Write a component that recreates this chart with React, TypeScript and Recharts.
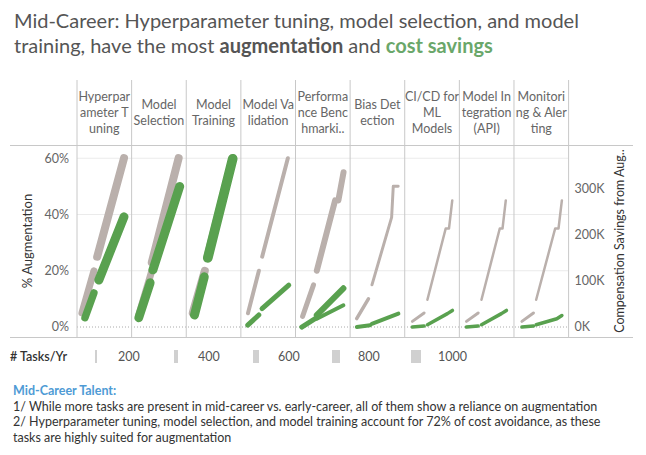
import React from "react";
import { ComposedChart, Line, XAxis, YAxis, CartesianGrid, ReferenceLine } from "recharts";

const FONT = "Lato, 'Open Sans', sans-serif";
const W = 646;
const H = 455;
const PLOT_LEFT = 77;
const PLOT_RIGHT = 568.6;
const PANEL_PX = (PLOT_RIGHT - PLOT_LEFT) / 9;

const GRAY = "#bab0ac";
const GREEN = "#59a14f";
const RULE = "#c8c8c8";

const tasks = [
  "Hyperparameter Tuning",
  "Model Selection",
  "Model Training",
  "Model Validation",
  "Performance Benchmarking",
  "Bias Detection",
  "CI/CD for ML Models",
  "Model Integration (API)",
  "Monitoring & Alerting",
];
const taskHeaders = [
  ["Hyperpar", "ameter T", "uning"],
  ["Model", "Selection"],
  ["Model", "Training"],
  ["Model Va", "lidation"],
  ["Performa", "nce Benc", "hmarki.."],
  ["Bias Det", "ection"],
  ["CI/CD for", "ML", "Models"],
  ["Model In", "tegration", "(API)"],
  ["Monitori", "ng & Aler", "ting"],
];
const augTicks = [0, 0.2, 0.4, 0.6];
const savTicks = [0, 100000, 200000, 300000];
const sizeTicks = [200, 400, 600, 800, 1000];

// % augmentation runs: task index, tasks/yr, position across the pane (0-100), values
const augRuns = [
  { task: 0, perYr: 750, pos: [9, 31], val: [0.05, 0.2] },
  { task: 0, perYr: 870, pos: [37, 86], val: [0.25, 0.6] },
  { task: 1, perYr: 750, pos: [13, 37], val: [0.043, 0.2] },
  { task: 1, perYr: 870, pos: [37, 86], val: [0.23, 0.6] },
  { task: 2, perYr: 870, pos: [12, 34], val: [0.05, 0.2] },
  { task: 2, perYr: 870, pos: [39, 85], val: [0.25, 0.6] },
  { task: 3, perYr: 430, pos: [13, 33], val: [0.049, 0.2] },
  { task: 3, perYr: 430, pos: [39, 86], val: [0.25, 0.6] },
  { task: 4, perYr: 540, pos: [13, 33], val: [0.038, 0.15] },
  { task: 4, perYr: 650, pos: [39, 72.5], val: [0.2, 0.45] },
  { task: 4, perYr: 650, pos: [78.5, 88], val: [0.45, 0.55] },
  { task: 5, perYr: 380, pos: [12, 33.5], val: [0.03, 0.1] },
  { task: 5, perYr: 320, pos: [40, 76, 79, 88], val: [0.15, 0.39, 0.5, 0.5] },
  { task: 6, perYr: 320, pos: [14, 35.5], val: [0.02, 0.05] },
  { task: 6, perYr: 270, pos: [41.5, 75, 81, 87], val: [0.097, 0.35, 0.35, 0.45] },
  { task: 7, perYr: 320, pos: [13, 34.5], val: [0.02, 0.05] },
  { task: 7, perYr: 270, pos: [40.5, 74, 79, 85], val: [0.097, 0.35, 0.35, 0.45] },
  { task: 8, perYr: 320, pos: [14.5, 35.7], val: [0.02, 0.05] },
  { task: 8, perYr: 270, pos: [40.6, 75.4, 81.5, 87.7], val: [0.097, 0.35, 0.35, 0.45] },
];

// compensation savings from augmentation runs ($)
const savRuns = [
  { task: 0, perYr: 800, pos: [14.6, 31], val: [20000, 74000] },
  { task: 0, perYr: 970, pos: [40, 86], val: [102000, 239000] },
  { task: 1, perYr: 950, pos: [13, 34], val: [20000, 96000] },
  { task: 1, perYr: 970, pos: [39, 88], val: [124000, 305000] },
  { task: 2, perYr: 970, pos: [15, 33], val: [26000, 109000] },
  { task: 2, perYr: 1050, pos: [39.5, 85], val: [150000, 365000] },
  { task: 3, perYr: 540, pos: [12.6, 32.8], val: [4000, 26000] },
  { task: 3, perYr: 540, pos: [38.8, 87.7], val: [40000, 91000] },
  { task: 4, perYr: 540, pos: [11.5, 36], val: [0, 18000] },
  { task: 4, perYr: 650, pos: [39, 87.7], val: [26000, 84000] },
  { task: 4, perYr: 430, pos: [39, 87.7], val: [18000, 47000] },
  { task: 5, perYr: 430, pos: [12.3, 36.6], val: [0, 4000] },
  { task: 5, perYr: 430, pos: [39.7, 88.4], val: [7000, 29000] },
  { task: 6, perYr: 380, pos: [14, 35.5], val: [0, 2000] },
  { task: 6, perYr: 380, pos: [41.6, 78.2, 87.3], val: [5000, 29000, 36000] },
  { task: 7, perYr: 380, pos: [13, 34.4], val: [0, 2000] },
  { task: 7, perYr: 380, pos: [40.5, 77, 86.2], val: [5000, 29000, 36000] },
  { task: 8, perYr: 380, pos: [14.5, 35.7], val: [0, 2000] },
  { task: 8, perYr: 380, pos: [40.6, 78.5, 87.7], val: [5000, 18000, 25000] },
];

const notes = [
  "1/ While more tasks are present in mid-career vs. early-career, all of them show a reliance on augmentation",
  "2/ Hyperparameter tuning, model selection, and model training account for 72% of cost avoidance, as these",
  "tasks are highly suited for augmentation",
];

const widthFor = (perYr: number) => perYr / 108;

function HeaderTick(props: any) {
  const { x, payload } = props;
  const idx = Math.floor(payload.value / 100);
  const lines = taskHeaders[idx] || [];
  const half = PANEL_PX / 2;
  return (
    <g>
      <line x1={x - half} x2={x - half} y1={80} y2={145} stroke={RULE} />
      {idx === tasks.length - 1 && <line x1={x + half} x2={x + half} y1={80} y2={145} stroke={RULE} />}
      <text textAnchor="middle" fill="#666" fontSize={12.5} fontFamily={FONT}>
        {lines.map((l, i) => (
          <tspan key={i} x={x} y={113 + (i - (lines.length - 1) / 2) * 16} dy="0.35em">
            {l}
          </tspan>
        ))}
      </text>
    </g>
  );
}

export default function App() {
  const tickStyle = { fill: "#666", fontSize: 12.5, fontFamily: FONT };
  return (
    <div style={{ position: "absolute", left: 0, top: 0, width: W, height: H, background: "#fff", fontFamily: FONT }}>
      <div style={{ position: "absolute", left: 14, top: 8, fontSize: 20, lineHeight: "25px", color: "#555", whiteSpace: "nowrap" }}>
        <div>Mid-Career: Hyperparameter tuning, model selection, and model</div>
        <div>
          training, have the most <b>augmentation</b> and <b style={{ color: "#6aa76a" }}>cost savings</b>
        </div>
      </div>

      <div style={{ position: "absolute", left: 10, top: 145, width: 623, height: 1, background: RULE }} />
      <div style={{ position: "absolute", left: 10, top: 337, width: 623, height: 1, background: RULE }} />

      <div style={{ position: "absolute", left: 0, top: 0 }}>
        <ComposedChart width={W} height={H} margin={{ top: 80, right: W - PLOT_RIGHT - 60, bottom: H - 337, left: PLOT_LEFT - 60 }}>
          <CartesianGrid vertical={false} yAxisId="aug" horizontalValues={augTicks.slice(1)} stroke="#ebebeb" />
          <XAxis
            type="number"
            dataKey="x"
            orientation="top"
            domain={[0, tasks.length * 100]}
            ticks={tasks.map((_, i) => i * 100 + 50)}
            interval={0}
            height={65}
            axisLine={false}
            tickLine={false}
            tick={<HeaderTick />}
            allowDataOverflow
          />
          <YAxis
            yAxisId="aug"
            orientation="left"
            width={60}
            domain={[-0.0355, 0.647]}
            ticks={augTicks}
            tickFormatter={(v: number) => `${Math.round(v * 100)}%`}
            axisLine={false}
            tickLine={false}
            tickSize={0}
            tickMargin={8}
            tick={tickStyle}
            allowDataOverflow
            label={{
              value: "% Augmentation",
              angle: -90,
              position: "insideLeft",
              offset: 10,
              style: { textAnchor: "middle", fill: "#333", fontSize: 13, fontFamily: FONT },
            }}
          />
          <YAxis
            yAxisId="sav"
            orientation="right"
            width={60}
            domain={[-21700, 395000]}
            ticks={savTicks}
            tickFormatter={(v: number) => `${Math.round(v / 1000)}K`}
            axisLine={false}
            tickLine={false}
            tickSize={0}
            tickMargin={6}
            tick={{ ...tickStyle, textAnchor: "start" }}
            allowDataOverflow
            label={{
              value: "Compensation Savings from Aug..",
              angle: -90,
              position: "insideRight",
              offset: 9,
              style: { textAnchor: "middle", fill: "#333", fontSize: 12.5, fontFamily: FONT },
            }}
          />
          <ReferenceLine yAxisId="aug" y={0} stroke="#aaa" strokeDasharray="1 2" />
          {[...tasks.map((_, i) => i * 100), tasks.length * 100].map((x) => (
            <ReferenceLine key={`v${x}`} yAxisId="aug" x={x} stroke={RULE} />
          ))}
          {augRuns.map((r, i) => (
            <Line
              key={`a${i}`}
              yAxisId="aug"
              data={r.pos.map((p, j) => ({ x: r.task * 100 + p, aug: r.val[j] }))}
              dataKey="aug"
              stroke={GRAY}
              strokeWidth={widthFor(r.perYr)}
              strokeLinecap="round"
              strokeLinejoin="round"
              dot={false}
              activeDot={false}
              isAnimationActive={false}
            />
          ))}
          {savRuns.map((r, i) => (
            <Line
              key={`s${i}`}
              yAxisId="sav"
              data={r.pos.map((p, j) => ({ x: r.task * 100 + p, sav: r.val[j] }))}
              dataKey="sav"
              stroke={GREEN}
              strokeWidth={widthFor(r.perYr)}
              strokeLinecap="round"
              strokeLinejoin="round"
              dot={false}
              activeDot={false}
              isAnimationActive={false}
            />
          ))}
        </ComposedChart>
      </div>

      <div style={{ position: "absolute", left: 10, top: 348, fontSize: 12.5, color: "#333", fontWeight: 600, lineHeight: "17px" }}>
        # Tasks/Yr
      </div>
      {sizeTicks.map((s, i) => (
        <React.Fragment key={s}>
          <div
            style={{
              position: "absolute",
              left: 96 + i * 80 - widthFor(s) / 2,
              top: 350,
              width: widthFor(s),
              height: 13,
              background: "#d0d0d0",
            }}
          />
          <div style={{ position: "absolute", left: 118 + i * 80, top: 348, fontSize: 12.5, color: "#555", lineHeight: "17px" }}>{s}</div>
        </React.Fragment>
      ))}

      <div style={{ position: "absolute", left: 13, top: 383, fontSize: 12.5, lineHeight: "15.5px", color: "#333", whiteSpace: "nowrap" }}>
        <div style={{ color: "#4e9bd5", fontWeight: 700 }}>Mid-Career Talent:</div>
        {notes.map((n, i) => (
          <div key={i}>{n}</div>
        ))}
      </div>
    </div>
  );
}
